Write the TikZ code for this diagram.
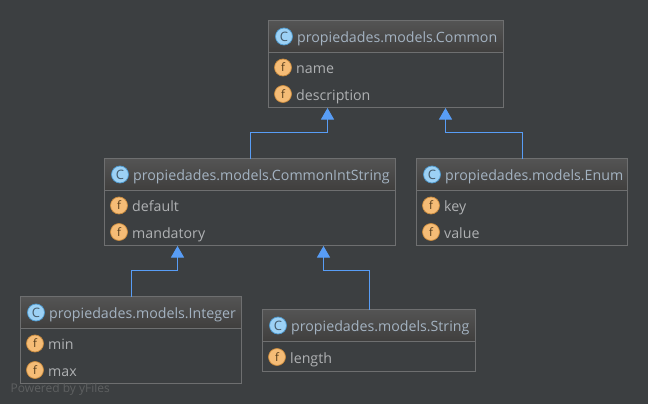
\documentclass[tikz,border=0pt]{standalone}
\usepackage{fontspec}
\setmainfont{Open Sans}
\usetikzlibrary{arrows.meta}
\definecolor{bgc}{HTML}{3C3F41}
\definecolor{edgec}{HTML}{6E6F70}
\definecolor{blueline}{HTML}{589DF6}
\definecolor{titlec}{HTML}{A4B3C2}
\definecolor{fieldc}{HTML}{AFB1B3}
\definecolor{hdtop}{HTML}{545454}
\definecolor{hdbot}{HTML}{403F3E}
\definecolor{cfill}{HTML}{9CD1F5}
\definecolor{cedge}{HTML}{4E9AD0}
\definecolor{ffill}{HTML}{F5BC76}
\definecolor{fedge}{HTML}{C98B3E}
\definecolor{wm}{HTML}{5E6061}
\tikzset{
  x=1pt,y=-1pt,
  classbox/.style={draw=edgec,line width=1pt,anchor=north west,inner sep=0pt,outer sep=0pt,minimum width=#1,minimum height=87pt},
  headbar/.style={top color=hdtop,bottom color=hdbot,anchor=north west,inner sep=0pt,outer sep=0pt,minimum width=#1,minimum height=31pt},
  sepline/.style={draw=edgec,line width=.8pt},
  title/.style={text=titlec,font=\fontsize{14.2pt}{16pt}\selectfont,anchor=base west,inner sep=0pt},
  field/.style={text=fieldc,font=\fontsize{14.2pt}{16pt}\selectfont,anchor=base west,inner sep=0pt},
  cicon/.style={circle,draw=cedge,fill=cfill,line width=.7pt,minimum size=17pt,inner sep=0pt,text=hdbot!70!cedge,font=\fontsize{13pt}{13pt}\selectfont},
  ficon/.style={circle,draw=fedge,fill=ffill,line width=.7pt,minimum size=17pt,inner sep=0pt,text=black!60!fedge,font=\fontsize{11.5pt}{11.5pt}\selectfont},
  conn/.style={draw=blueline,line width=1pt,-{Triangle[length=11.5pt,width=13pt,fill=blueline]}},
}
\begin{document}
\begin{tikzpicture}
\useasboundingbox[fill=bgc] (0,0) rectangle (648,404);
% Common
\node[headbar=235pt] (commonH) at (268.5,20.5) {};
\node[classbox=235pt] (common) at (268.5,20.5) {};
\draw[sepline] (268.5,52.5) -- (503.5,52.5);
\node[cicon] (commonC) at (284,36.5) {C};
\node[title] (commonT) at (297,42.5) {propiedades.models.Common};
\node[ficon] (commonF1) at (283,67.5) {f};
\node[field] (commonN1) at (296,73.5) {name};
\node[ficon] (commonF2) at (283,94) {f};
\node[field] (commonN2) at (296,100) {description};
% CommonIntString
\node[headbar=291pt] (cisH) at (104.5,158.5) {};
\node[classbox=291pt] (cis) at (104.5,158.5) {};
\draw[sepline] (104.5,190.5) -- (395.5,190.5);
\node[cicon] (cisC) at (120,174.5) {C};
\node[title] (cisT) at (133,180.5) {propiedades.models.CommonIntString};
\node[ficon] (cisF1) at (119,205.5) {f};
\node[field] (cisN1) at (132,211) {default};
\node[ficon] (cisF2) at (119,232) {f};
\node[field] (cisN2) at (132,238) {mandatory};
% Enum
\node[headbar=211pt] (enumH) at (416.5,158.5) {};
\node[classbox=211pt] (enum) at (416.5,158.5) {};
\draw[sepline] (416.5,190.5) -- (627.5,190.5);
\node[cicon] (enumC) at (432,174.5) {C};
\node[title] (enumT) at (445,180.5) {propiedades.models.Enum};
\node[ficon] (enumF1) at (431,205.5) {f};
\node[field] (enumN1) at (444,211) {key};
\node[ficon] (enumF2) at (431,232) {f};
\node[field] (enumN2) at (444,238) {value};
% Integer
\node[headbar=221pt] (intH) at (20.5,296.5) {};
\node[classbox=221pt] (int) at (20.5,296.5) {};
\draw[sepline] (20.5,328.5) -- (241.5,328.5);
\node[cicon] (intC) at (36,312.5) {C};
\node[title] (intT) at (49,318.5) {propiedades.models.Integer};
\node[ficon] (intF1) at (35,343.5) {f};
\node[field] (intN1) at (48,349) {min};
\node[ficon] (intF2) at (35,370) {f};
\node[field] (intN2) at (48,376) {max};
% String
\node[headbar=213pt] (strH) at (262.5,309.5) {};
\node[classbox=213pt,minimum height=61.5pt] (str) at (262.5,309.5) {};
\draw[sepline] (262.5,341.5) -- (475.5,341.5);
\node[cicon] (strC) at (278,325.5) {C};
\node[title] (strT) at (291,331.5) {propiedades.models.String};
\node[ficon] (strF1) at (277,357) {f};
\node[field] (strN1) at (290,363) {length};
% Connectors
\draw[conn] (cis.north west) ++(146,0) |- (327.5,132.5) -- ([xshift=-58.5pt,yshift=-.5pt]common.south);
\draw[conn] (enum.north west) ++(106,0) |- (445.5,132.5) -- ([xshift=59.5pt,yshift=-.5pt]common.south);
\draw[conn] (int.north west) ++(111,0) |- (177.5,270.5) -- ([xshift=-72.5pt,yshift=-.5pt]cis.south);
\draw[conn] (str.north west) ++(107,0) |- (323.5,270.5) -- ([xshift=73.5pt,yshift=-.5pt]cis.south);
% Watermark
\node[text=wm,font=\fontsize{12pt}{12pt}\selectfont,anchor=base west,inner sep=0pt] (wmark) at (10.5,392) {Powered by yFiles};
\end{tikzpicture}
\end{document}
